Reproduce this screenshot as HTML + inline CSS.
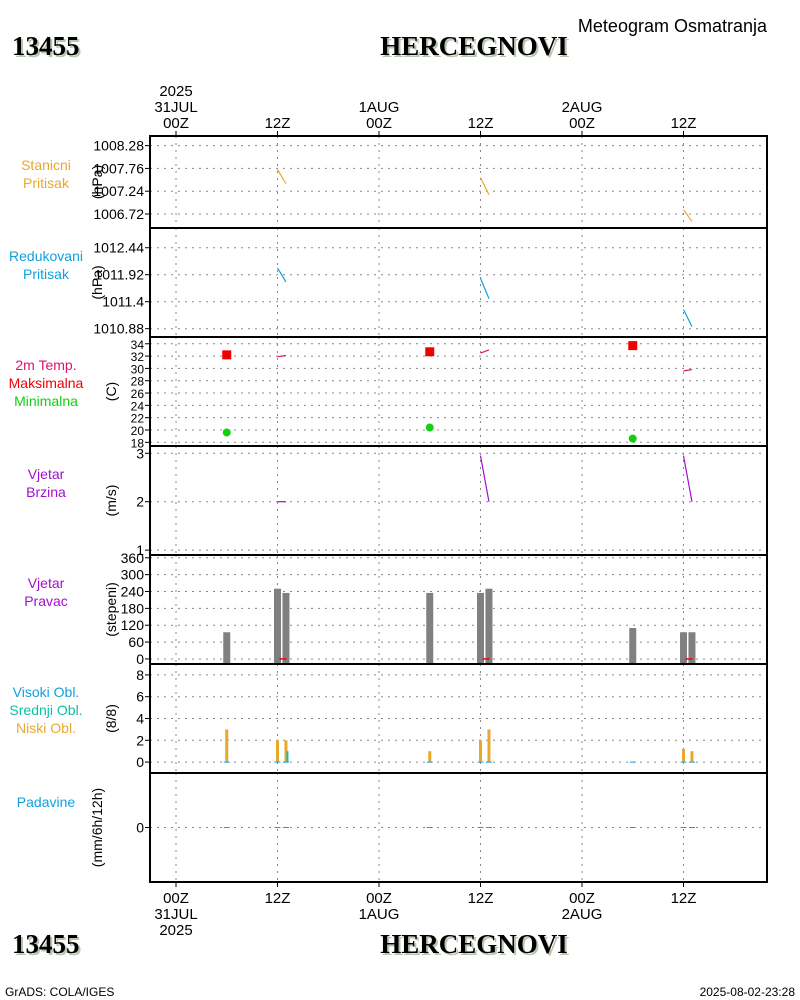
<!DOCTYPE html>
<html><head><meta charset="utf-8"><style>
body{margin:0;background:#fff;width:800px;height:1000px;overflow:hidden}
svg{display:block;font-family:"Liberation Sans",sans-serif}
.t{font-family:"Liberation Serif",serif;font-weight:bold}
</style></head><body>
<svg id="chart" width="800" height="1000" viewBox="0 0 800 1000">
<rect width="800" height="1000" fill="#fff"/>
<text x="767" y="32" font-size="18" text-anchor="end" fill="#000">Meteogram Osmatranja</text>
<g>
<text class="t" x="14" y="57" font-size="27" fill="#b8c8b0">13455</text>
<text class="t" x="12" y="55" font-size="27" fill="#000">13455</text>
<text class="t" x="476" y="57" font-size="27" fill="#b8c8b0" text-anchor="middle">HERCEGNOVI</text>
<text class="t" x="474" y="55" font-size="27" fill="#000" text-anchor="middle">HERCEGNOVI</text>
</g>
<g>
<text class="t" x="14" y="955" font-size="27" fill="#b8c8b0">13455</text>
<text class="t" x="12" y="953" font-size="27" fill="#000">13455</text>
<text class="t" x="476" y="955" font-size="27" fill="#b8c8b0" text-anchor="middle">HERCEGNOVI</text>
<text class="t" x="474" y="953" font-size="27" fill="#000" text-anchor="middle">HERCEGNOVI</text>
<text x="5" y="996" font-size="12">GrADS: COLA/IGES</text>
<text x="795" y="996" font-size="12" text-anchor="end">2025-08-02-23:28</text>
</g>
<g id="plot"></g>
</svg>
<script>
// time axis
var tickHours=[0,12,24,36,48,60];
var topLabels=[["2025","31JUL","00Z"],["12Z"],["1AUG","00Z"],["12Z"],["2AUG","00Z"],["12Z"]];
var botLabels=[["00Z","31JUL","2025"],["12Z"],["00Z","1AUG"],["12Z"],["00Z","2AUG"],["12Z"]];
// observation hours since 31JUL 00Z
var hrs=[6,12,13,30,36,37,54,60,61];
// segments [h0,h1,v0,v1]
var stnSeg=[[12,13,1007.74,1007.41],[36,37,1007.55,1007.16],[60,61,1006.82,1006.55]];
var redSeg=[[12,13,1012.05,1011.78],[36,37,1011.85,1011.46],[60,61,1011.25,1010.92]];
var tempSeg=[[12,13,31.9,32.1],[36,37,32.5,33.0],[60,61,29.6,29.8]];
var maxH=[6,30,54];
var maxV=[32.2,32.7,33.7];
var minH=[6,30,54];
var minV=[19.6,20.4,18.6];
var windSeg=[[12,13,2.0,2.0],[36,37,2.95,2.0],[60,61,2.95,2.0]];
var dirV=[95,250,235,235,235,250,110,95,95];
var lowCld=[3,2,2,1,2,3,0,1.2,1];
var midCld=[0,0,1,0,0,0,0,0,0];
var precip=[0,0,0,0,0,0,0,0,0];

var plotG=document.getElementById('plot');
var SVGNS=document.getElementById('chart').namespaceURI;
var X0=176, PXH=101.5/12, LX=150, RX=767;
function xh(h){return X0+h*PXH;}
function mk(tag,at,parent){
  var e=document.createElementNS(SVGNS,tag);
  var ks=Object.keys(at);
  for(var i=0;i<ks.length;i++){try{e.setAttribute(ks[i],String(at[ks[i]]));}catch(err){}}
  (parent||plotG).appendChild(e);return e;}
function txt(s,x,y,at,parent){var a={x:x,y:y,'font-size':14};var ks=Object.keys(at);for(var i=0;i<ks.length;i++)a[ks[i]]=at[ks[i]];var e=mk('text',a,parent);e.textContent=s;return e;}
function mkY(p){return function(v){return p.bot-(v-p.vmin)/(p.vmax-p.vmin)*(p.bot-p.top);};}
var panels=[
 {name:'station-pressure',top:136,bot:228,vmin:1006.4,vmax:1008.5,ticks:[1008.28,1007.76,1007.24,1006.72],fix:2,ly:165,lab:[['Stanicni','#e8a830'],['Pritisak','#e8a830']],unit:'(hPa)'},
 {name:'reduced-pressure',top:228,bot:337,vmin:1010.72,vmax:1012.82,ticks:[1012.44,1011.92,1011.4,1010.88],fix:-1,ly:256,lab:[['Redukovani','#10a0e0'],['Pritisak','#10a0e0']],unit:'(hPa)'},
 {name:'temperature',top:337,bot:446,vmin:17.4,vmax:35.1,ticks:[34,32,30,28,26,24,22,20,18],fix:0,ly:365,lab:[['2m Temp.','#e01070'],['Maksimalna','#f00000'],['Minimalna','#10d010']],unit:'(C)'},
 {name:'wind-speed',top:446,bot:555,vmin:0.9,vmax:3.15,ticks:[3,2,1],fix:0,ly:474,lab:[['Vjetar','#a010d0'],['Brzina','#a010d0']],unit:'(m/s)'},
 {name:'wind-direction',top:555,bot:664,vmin:-18,vmax:370,ticks:[360,300,240,180,120,60,0],fix:0,ly:583,lab:[['Vjetar','#a010d0'],['Pravac','#a010d0']],unit:'(stepeni)'},
 {name:'cloud-cover',top:664,bot:773,vmin:-1,vmax:9,ticks:[8,6,4,2,0],fix:0,ly:692,lab:[['Visoki Obl.','#10a0e0'],['Srednji Obl.','#10c0a0'],['Niski Obl.','#e8a830']],unit:'(8/8)'},
 {name:'precipitation',top:773,bot:882,vmin:-5,vmax:5,ticks:[0],fix:0,ly:802,lab:[['Padavine','#10a0e0']],unit:'(mm/6h/12h)'}
];
var PN={};
for(var pi=0;pi<panels.length;pi++){
 var p=panels[pi]; p.y=mkY(p); PN[p.name]=p;
 var g=mk('g',{});
 
 
 p.g=g;
 try{
 for(var i=0;i<tickHours.length;i++){var hx=xh(tickHours[i]);mk('line',{x1:hx,x2:hx,y1:p.top,y2:p.bot,stroke:'#888','stroke-dasharray':'2,5'},g);}
 for(var i=0;i<p.ticks.length;i++){var t=p.ticks[i],y=p.y(t);
  mk('line',{x1:LX,x2:RX,y1:y,y2:y,stroke:'#888','stroke-dasharray':'2,5'},g);
  mk('line',{x1:LX-5,x2:LX,y1:y,y2:y,stroke:'#000'},g);
  var s=p.fix>0?t.toFixed(p.fix):String(t);
  txt(s,LX-6,y+5,{'text-anchor':'end','font-size':(p.name=='temperature'?12:14)},g);}
 var n=p.lab.length;
 for(var i=0;i<n;i++)txt(p.lab[i][0],46,p.ly+i*18+5,{'text-anchor':'middle',fill:p.lab[i][1]},g);
 var ux=p.name.indexOf('pressure')>=0?97:(p.name=='precipitation'?97:111);
 var uy=(p.top+p.bot)/2;
 txt(p.unit,ux,uy+5,{'text-anchor':'middle',transform:'rotate(-90 '+ux+' '+uy+')'},g);
 }catch(err){}
}
function segs(p,arr,col){for(var i=0;i<arr.length;i++){var s=arr[i];
 var e=mk('line',{x1:xh(s[0]),x2:xh(s[1]),y1:p.y(s[2]),y2:p.y(s[3]),stroke:col,'stroke-width':1.2},p.g);
 
 }}
try{
segs(PN['station-pressure'],stnSeg,'#e8a830');
segs(PN['reduced-pressure'],redSeg,'#10a0e0');
segs(PN['temperature'],tempSeg,'#e01070');
segs(PN['wind-speed'],windSeg,'#a010d0');
}catch(err){}
try{
var TP=PN['temperature'];
for(var i=0;i<maxH.length;i++){var e=mk('rect',{x:xh(maxH[i])-4.5,y:TP.y(maxV[i])-4.5,width:9,height:9,fill:'#f00000'},TP.g);
 
 }
for(var i=0;i<minH.length;i++){var e=mk('circle',{cx:xh(minH[i]),cy:TP.y(minV[i]),r:4,fill:'#10d010'},TP.g);
 
 }
}catch(err){}
try{
var DP=PN['wind-direction'];
for(var i=0;i<hrs.length;i++){var e=mk('rect',{x:xh(hrs[i])-3.5,y:DP.y(dirV[i]),width:7,height:DP.bot-DP.y(dirV[i]),fill:'#808080'},DP.g);
 
 }
var redH=[12,36,60];
for(var i=0;i<redH.length;i++)mk('line',{x1:xh(redH[i])+2,x2:xh(redH[i])+9,y1:DP.y(0),y2:DP.y(0),stroke:'#f00000','stroke-width':1.5},DP.g);
}catch(err){}
try{
var CP=PN['cloud-cover'];
for(var i=0;i<hrs.length;i++){var h=hrs[i];
 var b=mk('rect',{x:xh(h)-1.5,y:CP.y(lowCld[i]),width:3,height:CP.y(0)-CP.y(lowCld[i]),fill:'#e8a830'},CP.g);
 
 
 if(midCld[i]>0){var m=mk('rect',{x:xh(h)+0.5,y:CP.y(midCld[i]),width:2,height:CP.y(0)-CP.y(midCld[i]),fill:'#10c0a0'},CP.g);
  
  }
 mk('line',{x1:xh(h)-3,x2:xh(h)+3,y1:CP.y(0),y2:CP.y(0),stroke:'#10a0e0'},CP.g);}
var PP=PN['precipitation'];
for(var i=0;i<hrs.length;i++){var e=mk('line',{x1:xh(hrs[i])-3,x2:xh(hrs[i])+3,y1:PP.y(precip[i]),y2:PP.y(precip[i]),stroke:'#10a0e0'},PP.g);
 
 }
}catch(err){}
for(var pi=0;pi<panels.length;pi++){var p=panels[pi];mk('rect',{x:LX,y:p.top,width:RX-LX,height:p.bot-p.top,fill:'none',stroke:'#000','stroke-width':2});}
var ax=mk('g',{});


for(var i=0;i<tickHours.length;i++){var x=xh(tickHours[i]);
 mk('line',{x1:x,x2:x,y1:131,y2:136,stroke:'#000'},ax);
 mk('line',{x1:x,x2:x,y1:882,y2:887,stroke:'#000'},ax);
 var tl=topLabels[i];
 for(var j=0;j<tl.length;j++)txt(tl[j],x,128-(tl.length-1-j)*16,{'text-anchor':'middle','font-size':15},ax);
 var bl=botLabels[i];
 for(var j=0;j<bl.length;j++)txt(bl[j],x,903+j*16,{'text-anchor':'middle','font-size':15},ax);
}
</script>
</body></html>
